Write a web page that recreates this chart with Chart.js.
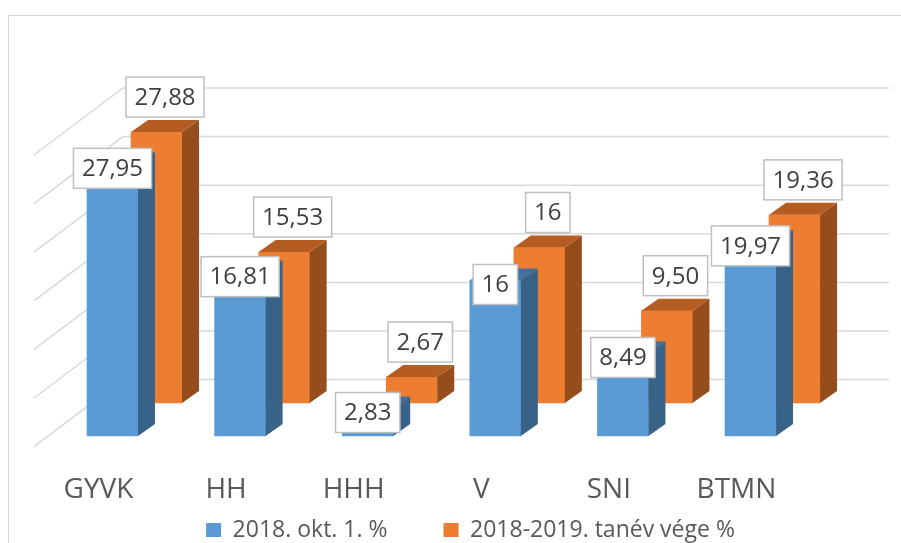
<!DOCTYPE html>
<html lang="hu">
<head>
    <meta charset="UTF-8">
    <title>2018 okt. 1. / 2018-2019 tanév vége</title>
    <script src="https://cdn.jsdelivr.net/npm/chart.js"></script>
    <style>
        html, body { margin: 0; padding: 0; background: white; overflow: hidden; }
        body { width: 901px; height: 543px; position: relative; }
        .frame {
            position: absolute;
            left: 8px;
            top: 15px;
            width: 893px;
            height: 550px;
            border-top: 1.5px solid #d9d9d9;
            border-left: 1.5px solid #d9d9d9;
            box-sizing: border-box;
        }
        canvas { position: absolute; left: 0; top: 0; }
    </style>
</head>
<body>
    <div class="frame">
        <canvas id="barChart" width="893" height="550"></canvas>
    </div>

    <script>
        const categories = ['GYVK', 'HH', 'HHH', 'V', 'SNI', 'BTMN'];
        const octValues = [27.95, 16.81, 2.83, 16, 8.49, 19.97];
        const endValues = [27.88, 15.53, 2.67, 16, 9.50, 19.36];
        const octLabels = ['27,95', '16,81', '2,83', '16', '8,49', '19,97'];
        const endLabels = ['27,88', '15,53', '2,67', '16', '9,50', '19,36'];
        const seriesNames = ['2018. okt. 1. %', '2018-2019. tanév vége %'];

        const FONT = "'Open Sans', 'Noto Sans', sans-serif";
        const DEPTH_X = 17, DEPTH_Y = -12;   // 3d depth of bar
        const ROW_SHIFT = 0.345;             // back row offset on x

        // darker faces for the fake 3d look
        const faces = {
            blue:   { side: '#386287', top: '#41719c' },
            orange: { side: '#964d1c', top: '#b45c22' }
        };

        // back wall gridlines + side wall diagonals
        const wallPlugin = {
            id: 'wall',
            beforeDatasetsDraw(chart) {
                const ctx = chart.ctx;
                const yg = chart.scales.yg;
                const area = chart.chartArea;
                const backLeft = area.left + 84;
                const backRight = area.right - 13;
                ctx.save();
                ctx.strokeStyle = '#d9d9d9';
                ctx.lineWidth = 1.5;
                yg.ticks.forEach(t => {
                    if (t.value < 0) return;
                    const y = yg.getPixelForValue(t.value);
                    ctx.beginPath();
                    ctx.moveTo(backLeft - 89, y + 67);
                    ctx.lineTo(backLeft, y);
                    ctx.lineTo(backRight, y);
                    ctx.stroke();
                });
                ctx.restore();
            }
        };

        // side + top faces of each bar
        const depthPlugin = {
            id: 'depth',
            afterDatasetDraw(chart, args) {
                const ctx = chart.ctx;
                const f = args.index === 0 ? faces.blue : faces.orange;
                ctx.save();
                args.meta.data.forEach(bar => {
                    const left = bar.x - bar.width / 2;
                    const right = bar.x + bar.width / 2;
                    const top = bar.y;
                    const base = bar.base;
                    // side
                    ctx.fillStyle = f.side;
                    ctx.beginPath();
                    ctx.moveTo(right, base);
                    ctx.lineTo(right, top);
                    ctx.lineTo(right + DEPTH_X, top + DEPTH_Y);
                    ctx.lineTo(right + DEPTH_X, base + DEPTH_Y);
                    ctx.closePath();
                    ctx.fill();
                    // top
                    ctx.fillStyle = f.top;
                    ctx.beginPath();
                    ctx.moveTo(left, top);
                    ctx.lineTo(right, top);
                    ctx.lineTo(right + DEPTH_X, top + DEPTH_Y);
                    ctx.lineTo(left + DEPTH_X, top + DEPTH_Y);
                    ctx.closePath();
                    ctx.fill();
                });
                ctx.restore();
            }
        };

        // boxed value labels
        const labelPlugin = {
            id: 'valueBoxes',
            afterDatasetsDraw(chart) {
                const ctx = chart.ctx;
                ctx.save();
                ctx.font = '24px ' + FONT;
                ctx.textAlign = 'center';
                ctx.textBaseline = 'middle';
                const drawBox = (text, cx, cy) => {
                    const w = ctx.measureText(text).width + 17;
                    const h = 40;
                    ctx.fillStyle = '#ffffff';
                    ctx.fillRect(cx - w / 2, cy - h / 2, w, h);
                    ctx.strokeStyle = '#bfbfbf';
                    ctx.lineWidth = 1.5;
                    ctx.strokeRect(cx - w / 2, cy - h / 2, w, h);
                    ctx.fillStyle = '#404040';
                    ctx.fillText(text, cx, cy + 1);
                };
                // back row first, front row on top
                chart.getDatasetMeta(1).data.forEach((bar, i) => {
                    drawBox(endLabels[i], bar.x + DEPTH_X / 2, bar.y + DEPTH_Y - 23);
                });
                chart.getDatasetMeta(0).data.forEach((bar, i) => {
                    drawBox(octLabels[i], bar.x, bar.y + 4);
                });
                ctx.restore();
            }
        };

        const ctx = document.getElementById('barChart').getContext('2d');
        new Chart(ctx, {
            type: 'bar',
            data: {
                datasets: [{
                    label: seriesNames[0],
                    data: octValues.map((v, i) => ({ x: i, y: v })),
                    backgroundColor: '#5b9bd5',
                    yAxisID: 'y',
                    order: 1
                }, {
                    label: seriesNames[1],
                    data: endValues.map((v, i) => ({ x: i + ROW_SHIFT, y: v })),
                    backgroundColor: '#ed7d31',
                    yAxisID: 'y2',
                    order: 2
                }]
            },
            options: {
                responsive: false,
                animation: false,
                grouped: false,
                barThickness: 51,
                layout: { padding: { top: 72, left: 30, right: 0, bottom: 14.5 } },
                scales: {
                    x: {
                        type: 'linear',
                        offset: false,
                        min: -0.576,
                        max: 6.187,
                        grid: { display: false },
                        border: { display: false },
                        afterBuildTicks: s => {
                            s.ticks = categories.map((c, i) => ({ value: i - 0.11 }));
                        },
                        afterFit: s => { s.height = 60.5; },
                        ticks: {
                            padding: 17,
                            color: '#595959',
                            font: { family: FONT, size: 28 },
                            callback: (v, i) => categories[i]
                        }
                    },
                    y: { display: false, min: -1.23, max: 35.8 },
                    y2: { display: false, min: -4.63, max: 32.41 },
                    yg: {
                        display: false,
                        min: -7.04,
                        max: 30,
                        ticks: { stepSize: 5 }
                    }
                },
                plugins: {
                    legend: {
                        position: 'bottom',
                        labels: {
                            boxWidth: 15,
                            boxHeight: 14,
                            padding: 10,
                            color: '#595959',
                            font: { family: FONT, size: 23 },
                            // wider gap after the first item
                            generateLabels: chart => Chart.defaults.plugins.legend.labels
                                .generateLabels(chart)
                                .map((l, i) => i === 0 ? { ...l, text: l.text + '\u2003\u2003' } : l)
                        }
                    },
                    tooltip: { enabled: false }
                }
            },
            plugins: [wallPlugin, depthPlugin, labelPlugin]
        });
    </script>
</body>
</html>
